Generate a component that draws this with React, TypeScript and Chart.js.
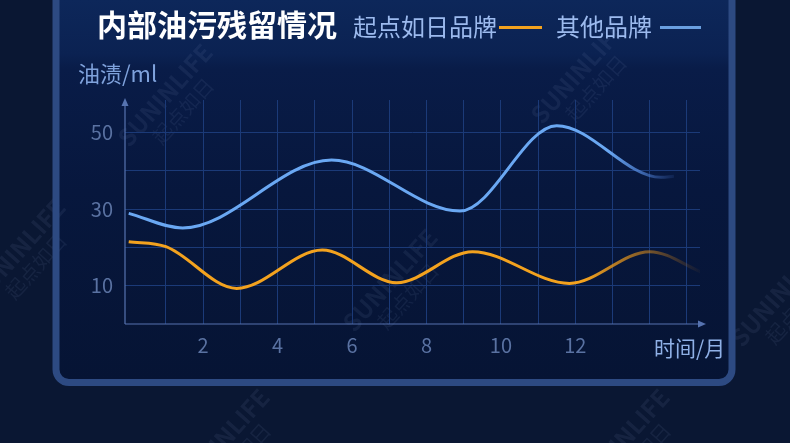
import React, { useEffect, useRef } from "react";
import { Chart, registerables } from "chart.js";

Chart.register(...registerables);

const FONT = "'Noto Sans CJK SC', 'Noto Sans', sans-serif";

const titleText = "内部油污残留情况";
const seriesNames = ["起点如日品牌", "其他品牌"];
const yAxisTitle = "油渍/ml";
const xAxisTitle = "时间/月";
const watermarkLatin = "SUNINLIFE";
const watermarkCjk = "起点如日";

// 起点如日品牌 (orange)
const ownMonths = [0, 1, 2.9, 5.2, 7.2, 9.24, 11.84, 14.0, 15.4];
const ownValues = [21.5, 20.2, 9.3, 19.3, 10.8, 18.9, 10.6, 18.9, 13.5];

// 其他品牌 (blue)
const otherMonths = [0, 1.45, 5.45, 8.9, 11.5, 14.3, 14.65];
const otherValues = [28.9, 25.1, 42.8, 29.5, 51.8, 38.3, 38.6];

const xGridMonths = [1, 2, 3, 4, 5, 6, 7, 8, 9, 10, 11, 12, 13, 14, 15];
const xTickValues = [2, 4, 6, 8, 10, 12];
const yGridValues = [10, 20, 30, 40, 50];
const yTickValues = [10, 30, 50];

const ORANGE = "#f3a21e";
const BLUE = "#6aa8f3";
const GRID = "#1b3a78";
const AXIS = "#5673b0";
const TICK = "#5a72a2";

const watermarks = [
  [165, 95], [390, 280], [578, 72], [778, 295], [18, 250], [222, 440], [622, 440],
];

function fadeGradient(ctx: any, stops: [number, string][]) {
  const chart = ctx.chart;
  const area = chart.chartArea;
  if (!area) return stops[0][1];
  const g = chart.ctx.createLinearGradient(area.left, 0, area.right, 0);
  stops.forEach(([o, c]) => g.addColorStop(o, c));
  return g;
}

const decorPlugin = {
  id: "decor",
  beforeDraw(chart: any) {
    const c = chart.ctx as CanvasRenderingContext2D;
    const W = chart.width, H = chart.height;
    c.save();
    c.fillStyle = "#0a1733";
    c.fillRect(0, 0, W, H);
    const L = 56, R = 732, B = 382.5, T = -30, rad = 13;
    const path = () => {
      c.beginPath();
      c.moveTo(L, T);
      c.lineTo(L, B - rad);
      c.arcTo(L, B, L + rad, B, rad);
      c.lineTo(R - rad, B);
      c.arcTo(R, B, R, B - rad, rad);
      c.lineTo(R, T);
      c.closePath();
    };
    const g = c.createLinearGradient(0, 0, 0, B);
    g.addColorStop(0, "#0d275a");
    g.addColorStop(0.14, "#0b2252");
    g.addColorStop(0.18, "#091c48");
    g.addColorStop(0.5, "#07173d");
    g.addColorStop(1, "#061434");
    path();
    c.fillStyle = g;
    c.fill();
    c.fillStyle = "rgba(140,165,210,0.09)";
    c.textAlign = "center";
    c.textBaseline = "middle";
    watermarks.forEach(([x, y]) => {
      c.save();
      c.translate(x, y);
      c.rotate(-0.84);
      c.font = `bold 24px ${FONT}`;
      c.fillText(watermarkLatin, 0, 0);
      c.font = `20px ${FONT}`;
      c.fillText(watermarkCjk, 0, 24);
      c.restore();
    });
    path();
    c.strokeStyle = "#2d4a82";
    c.lineWidth = 7;
    c.stroke();
    c.restore();
  },
  beforeDatasetsDraw(chart: any) {
    const c = chart.ctx as CanvasRenderingContext2D;
    const a = chart.chartArea;
    const x0 = a.left, y0 = a.bottom;
    c.save();
    c.strokeStyle = AXIS;
    c.fillStyle = AXIS;
    c.lineWidth = 1.2;
    c.beginPath();
    c.moveTo(x0, y0);
    c.lineTo(x0, a.top + 4);
    c.moveTo(x0, y0);
    c.lineTo(a.right + 1, y0);
    c.stroke();
    c.beginPath();
    c.moveTo(x0, a.top - 2);
    c.lineTo(x0 - 3.5, a.top + 6);
    c.lineTo(x0 + 3.5, a.top + 6);
    c.closePath();
    c.fill();
    c.beginPath();
    c.moveTo(a.right + 6, y0);
    c.lineTo(a.right - 2, y0 - 3.5);
    c.lineTo(a.right - 2, y0 + 3.5);
    c.closePath();
    c.fill();
    c.restore();
  },
};

export default function App() {
  const ref = useRef<HTMLCanvasElement | null>(null);

  useEffect(() => {
    if (!ref.current) return;
    const chart = new Chart(ref.current, {
      type: "line",
      data: {
        datasets: [
          {
            label: seriesNames[1],
            data: otherMonths.map((m, i) => ({ x: m, y: otherValues[i] })),
            borderColor: (ctx: any) =>
              fadeGradient(ctx, [
                [0, BLUE],
                [0.84, BLUE],
                [0.9, "rgba(78,128,210,0.75)"],
                [0.955, "rgba(60,100,180,0.15)"],
                [1, "rgba(60,100,180,0)"],
              ]),
            borderWidth: 3,
            pointRadius: 0,
            fill: false,
            cubicInterpolationMode: "monotone",
          },
          {
            label: seriesNames[0],
            data: ownMonths.map((m, i) => ({ x: m, y: ownValues[i] })),
            borderColor: (ctx: any) =>
              fadeGradient(ctx, [
                [0, ORANGE],
                [0.8, ORANGE],
                [0.91, "rgba(200,130,30,0.6)"],
                [1, "rgba(160,100,30,0.05)"],
              ]),
            borderWidth: 3,
            pointRadius: 0,
            fill: false,
            cubicInterpolationMode: "monotone",
          },
        ],
      },
      options: {
        animation: false,
        responsive: false,
        devicePixelRatio: 1,
        layout: { padding: { left: 0, top: 100, right: 90, bottom: 0 } },
        plugins: { legend: { display: false }, tooltip: { enabled: false }, title: { display: false } },
        scales: {
          x: {
            type: "linear",
            min: -0.1,
            max: 15.35,
            afterBuildTicks: (axis: any) => {
              axis.ticks = xGridMonths.map((v) => ({ value: v }));
            },
            afterFit: (s: any) => {
              s.height = 119;
            },
            border: { display: false },
            grid: { color: GRID, lineWidth: 1, drawTicks: false },
            ticks: {
              autoSkip: false,
              maxRotation: 0,
              padding: 9,
              color: TICK,
              font: { family: FONT, size: 20 },
              callback: (v: any) => (xTickValues.includes(v) ? String(v) : ""),
            },
          },
          y: {
            type: "linear",
            min: 0,
            max: 58.5,
            afterBuildTicks: (axis: any) => {
              axis.ticks = yGridValues.map((v) => ({ value: v }));
            },
            afterFit: (s: any) => {
              s.width = 125;
            },
            border: { display: false },
            grid: { color: GRID, lineWidth: 1, drawTicks: false },
            ticks: {
              padding: 12,
              color: TICK,
              font: { family: FONT, size: 20 },
              callback: (v: any) => (yTickValues.includes(v) ? String(v) : ""),
            },
          },
        },
      },
      plugins: [decorPlugin],
    });
    return () => chart.destroy();
  }, []);

  const txt: React.CSSProperties = {
    position: "absolute",
    whiteSpace: "nowrap",
    lineHeight: 1,
    fontFamily: FONT,
    margin: 0,
  };

  return (
    <div style={{ position: "fixed", left: 0, top: 0, width: 790, height: 443, overflow: "hidden" }}>
      <canvas ref={ref} width={790} height={443} style={{ position: "absolute", left: 0, top: 0, width: 790, height: 443 }} />
      <div style={{ ...txt, left: 97, top: 8, fontSize: 30, fontWeight: "bold", color: "#ffffff" }}>{titleText}</div>
      <div style={{ ...txt, left: 353, top: 14, fontSize: 24, color: "#9cbaee" }}>{seriesNames[0]}</div>
      <div style={{ position: "absolute", left: 499, top: 25.5, width: 43, height: 3, background: ORANGE }} />
      <div style={{ ...txt, left: 556, top: 14, fontSize: 24, color: "#9cbaee" }}>{seriesNames[1]}</div>
      <div style={{ position: "absolute", left: 660, top: 25.5, width: 41, height: 3, background: "#6a9fe0" }} />
      <div style={{ ...txt, left: 78, top: 61, fontSize: 22, color: "#7fa2dc" }}>{yAxisTitle}</div>
      <div style={{ ...txt, left: 654, top: 337, fontSize: 21, color: "#8fb0e6" }}>{xAxisTitle}</div>
    </div>
  );
}
